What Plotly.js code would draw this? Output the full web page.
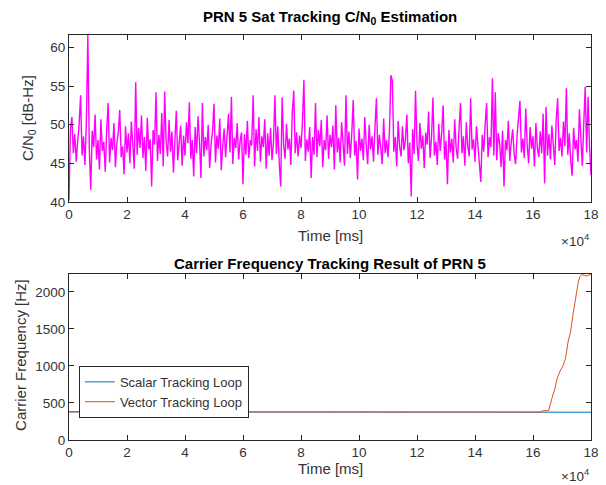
<!DOCTYPE html>
<html>
<head>
<meta charset="utf-8">
<script src="https://cdn.plot.ly/plotly-3.0.1.min.js"></script>
<style>html,body{margin:0;padding:0;background:#fff;}#chart{width:606px;height:485px;}</style>
</head>
<body>
<div id="chart"></div>
<script>
// C/N0 estimate, one value every 500 ms
const cnoStepMs = 500;
const cnoValues = [
40.2,49.5,51.0,46.3,48.8,45.2,47.9,50.1,53.8,46.0,48.5,44.8,50.5,61.6,46.9,41.6,49.2,47.1,51.3,45.5,
48.0,44.2,50.7,46.6,47.8,43.9,49.4,52.8,45.1,48.3,46.7,50.2,44.5,47.6,49.0,51.9,45.8,47.2,43.6,49.8,
46.4,48.9,45.0,50.4,47.5,44.3,55.5,46.1,49.6,47.0,51.2,45.7,48.4,44.0,50.9,46.8,48.1,42.0,49.3,47.4,
54.2,45.3,48.7,46.2,51.5,44.6,54.3,47.7,45.9,50.6,46.5,49.1,43.8,48.2,51.8,45.4,47.3,49.9,44.7,48.6,
46.0,50.3,47.6,52.9,45.6,48.0,43.3,49.7,46.3,51.1,47.8,43.1,52.8,45.9,48.4,46.7,50.0,44.4,47.5,49.2,
52.7,45.1,48.6,46.9,50.8,44.1,47.2,49.5,45.8,48.1,51.4,46.4,53.6,44.9,48.3,47.0,50.2,45.5,47.9,49.0,
42.3,48.8,46.1,50.5,45.7,48.0,47.3,53.8,44.6,49.4,46.6,51.0,45.2,48.5,47.1,50.7,44.3,48.9,46.0,49.6,
45.4,47.7,53.8,46.2,49.8,45.0,42.0,53.5,47.4,45.6,50.1,46.8,48.2,44.8,51.6,54.4,46.3,49.0,45.9,48.6,
47.0,50.4,55.8,45.3,48.1,46.5,49.7,43.1,48.4,46.1,52.8,45.8,49.3,47.2,50.6,44.5,48.0,46.7,51.2,45.6,
48.7,47.1,49.9,44.2,52.5,46.4,48.3,45.1,50.3,47.6,44.7,53.8,46.2,49.1,45.7,48.8,53.2,46.0,47.9,42.9,
49.5,46.6,48.2,45.4,51.0,47.3,44.9,50.0,46.8,48.5,45.2,49.6,53.4,46.1,48.7,47.0,44.9,50.8,46.3,48.0,
45.8,49.2,56.4,55.7,46.5,48.4,44.6,50.5,47.2,45.9,49.8,46.7,48.1,51.3,45.0,47.7,40.7,49.4,46.2,54.4,
47.5,45.3,50.2,46.9,48.6,44.4,49.0,47.4,51.7,45.7,48.3,53.5,46.0,47.8,44.8,50.1,46.6,48.9,52.5,45.5,
47.9,42.3,49.3,46.4,48.2,45.1,50.7,47.0,45.6,49.5,52.8,46.3,48.5,44.7,50.3,47.2,45.9,53.4,46.8,48.1,
45.2,49.8,47.4,46.1,42.6,48.7,46.5,50.0,52.8,45.8,48.4,47.1,56.0,46.0,54.2,45.4,48.9,47.6,44.5,49.2,
42.0,48.0,46.7,50.5,45.3,47.8,49.4,46.2,44.9,48.6,50.9,53.1,46.4,48.2,45.7,52.1,47.3,45.0,49.7,46.9,
48.5,44.6,50.2,47.0,45.8,49.1,46.3,51.4,42.4,52.3,46.0,48.8,45.5,49.9,47.4,44.8,50.6,53.4,46.6,48.3,
45.9,50.4,47.2,54.7,46.1,48.9,45.4,43.4,49.6,46.8,48.0,45.2,52.0,47.5,44.7,50.1,54.9,46.4,53.6,47.1,
43.5
];
const cnoTime = cnoValues.map((v, i) => i * cnoStepMs);

// Carrier frequency tracking
const scalarTime = [0, 20000, 40000, 60000, 80000, 100000, 120000, 140000, 160000, 170000, 180000];
const scalarFreq = [380, 379, 378, 378, 377, 377, 376, 376, 376, 375, 375];
const vectorTime = [0, 40000, 80000, 120000, 162800, 163200, 165400, 166500, 167600, 168300, 169200, 170300, 171200, 172200, 172900, 173900, 174800, 175600, 176200, 176800, 178500, 180000];
const vectorFreq = [380, 379, 378, 378, 378, 396, 396, 560, 700, 830, 920, 1000, 1100, 1350, 1450, 1720, 1960, 2130, 2210, 2235, 2215, 2240];

const xTickVals = [0, 20000, 40000, 60000, 80000, 100000, 120000, 140000, 160000, 180000];
const xTickText = ['0', '2', '4', '6', '8', '10', '12', '14', '16', '18'];
const legendNames = ['Scalar Tracking Loop', 'Vector Tracking Loop'];

const axisColor = '#262626';
const textColor = '#333333';
const fam = 'Liberation Sans, Arial, sans-serif';
const font = {family: fam, size: 13, color: textColor};

const baseAxis = {
  showline: true, linecolor: axisColor, linewidth: 1, mirror: 'ticks',
  ticks: 'inside', ticklen: 5, tickcolor: axisColor, showgrid: false, zeroline: false,
  tickfont: {family: fam, size: 13.5, color: textColor}
};

const traces = [
  {x: cnoTime, y: cnoValues, type: 'scatter', mode: 'lines', line: {color: '#ff00ff', width: 1.4}, xaxis: 'x', yaxis: 'y', showlegend: false},
  {x: scalarTime, y: scalarFreq, type: 'scatter', mode: 'lines', name: legendNames[0], line: {color: '#0072BD', width: 1}, xaxis: 'x2', yaxis: 'y2'},
  {x: vectorTime, y: vectorFreq, type: 'scatter', mode: 'lines', name: legendNames[1], line: {color: '#D95319', width: 1}, xaxis: 'x2', yaxis: 'y2'}
];

function ann(text, x, y, size, extra) {
  return Object.assign({text: text, xref: 'paper', yref: 'paper', x: x, y: y, xanchor: 'center', yanchor: 'middle', showarrow: false,
    font: {family: fam, size: size, color: textColor}}, extra || {});
}

const layout = {
  width: 606, height: 485,
  margin: {l: 69, r: 15, t: 35, b: 45},
  paper_bgcolor: '#fff', plot_bgcolor: '#fff',
  font: font,
  showlegend: true,
  legend: {x: 0.019, y: 0.183, xanchor: 'left', yanchor: 'top', bgcolor: '#fff', bordercolor: axisColor, borderwidth: 1,
           font: {family: fam, size: 13, color: textColor}, tracegroupgap: 0},
  xaxis: Object.assign({}, baseAxis, {domain: [0, 1], range: [0, 180000], tickvals: xTickVals, ticktext: xTickText, anchor: 'y'}),
  yaxis: Object.assign({}, baseAxis, {domain: [0.5877, 1], range: [40, 61.6], tickvals: [40, 45, 50, 55, 60], anchor: 'x'}),
  xaxis2: Object.assign({}, baseAxis, {domain: [0, 1], range: [0, 180000], tickvals: xTickVals, ticktext: xTickText, anchor: 'y2'}),
  yaxis2: Object.assign({}, baseAxis, {domain: [0, 0.41], range: [0, 2243], tickvals: [0, 500, 1000, 1500, 2000], anchor: 'x2'}),
  annotations: [
    ann('<b>PRN 5 Sat Tracking C/N<sub>0</sub> Estimation</b>', 0.5, 1.044, 15, {font: {family: fam, size: 15, color: '#000'}}),
    ann('<b>Carrier Frequency Tracking Result of PRN 5</b>', 0.5, 0.437, 15, {font: {family: fam, size: 15, color: '#000'}}),
    ann('Time [ms]', 0.5, 0.504, 15),
    ann('Time [ms]', 0.5, -0.07, 15),
    ann('C/N<sub>0</sub> [dB-Hz]', -0.0785, 0.795, 15, {textangle: -90}),
    ann('Carrier Frequency [Hz]', -0.092, 0.21, 15, {textangle: -90}),
    ann('×10<sup>4</sup>', 1.0, 0.494, 13.5, {xanchor: 'right'}),
    ann('×10<sup>4</sup>', 1.0, -0.086, 13.5, {xanchor: 'right'})
  ]
};

Plotly.newPlot('chart', traces, layout, {displayModeBar: false, staticPlot: true});
</script>
</body>
</html>
